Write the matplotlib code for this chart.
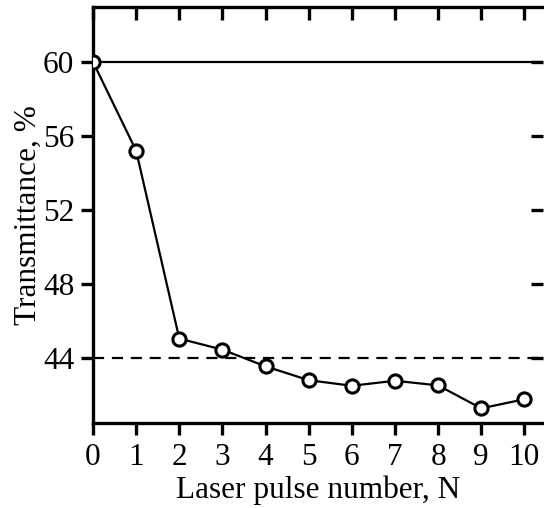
import matplotlib
matplotlib.use("Agg")
import matplotlib.pyplot as plt

# values
pulses = [0, 1, 2, 3, 4, 5, 6, 7, 8, 9, 10]
transmittance = [60.0, 55.2, 45.05, 44.45, 43.55, 42.8, 42.5, 42.77, 42.52, 41.28, 41.77]
initial_level = 60
reference_level = 44
y_ticks = [44, 48, 52, 56, 60]

plt.rcParams['font.family'] = ['Liberation Serif', 'DejaVu Serif']

fig = plt.figure(figsize=(5.44, 5.08), dpi=100)
ax = fig.add_axes([0.171, 0.1667, 0.827, 0.8195])

ax.axhline(initial_level, color='black', lw=1.6, zorder=1)
ax.axhline(reference_level, color='black', lw=1.6, ls=(0, (5, 3.5)), zorder=1)
ax.plot(pulses, transmittance, color='black', lw=1.6, marker='o', ms=9.5,
        mfc='white', mec='black', mew=2.2, zorder=3)

ax.set_xlim(0, 10.43)
ax.set_ylim(40.47, 62.97)
ax.set_xticks(pulses)
ax.set_yticks(y_ticks)

for side in ['left', 'bottom', 'top']:
    ax.spines[side].set_linewidth(2.4)
ax.spines['right'].set_visible(False)

ax.tick_params(axis='x', which='major', direction='out', length=8.5, width=2.4,
               labelsize=22.5, pad=6)
ax.tick_params(axis='y', which='major', direction='out', length=8.5, width=2.4,
               labelsize=22.5, pad=5)

# inward ticks on top and right, no labels
top = ax.secondary_xaxis('top')
top.set_xticks(pulses)
top.tick_params(direction='in', length=9.5, width=2.4, labeltop=False)
top.spines['top'].set_visible(False)
right = ax.secondary_yaxis('right')
right.set_yticks(y_ticks)
right.tick_params(direction='in', length=9, width=2.4, labelright=False)
right.spines['right'].set_visible(False)

ax.set_xlabel('Laser pulse number, N', fontsize=22.5, labelpad=2)
ax.set_ylabel('Transmittance, %', fontsize=22.5, labelpad=0)

fig.savefig('out.png', dpi=100)
